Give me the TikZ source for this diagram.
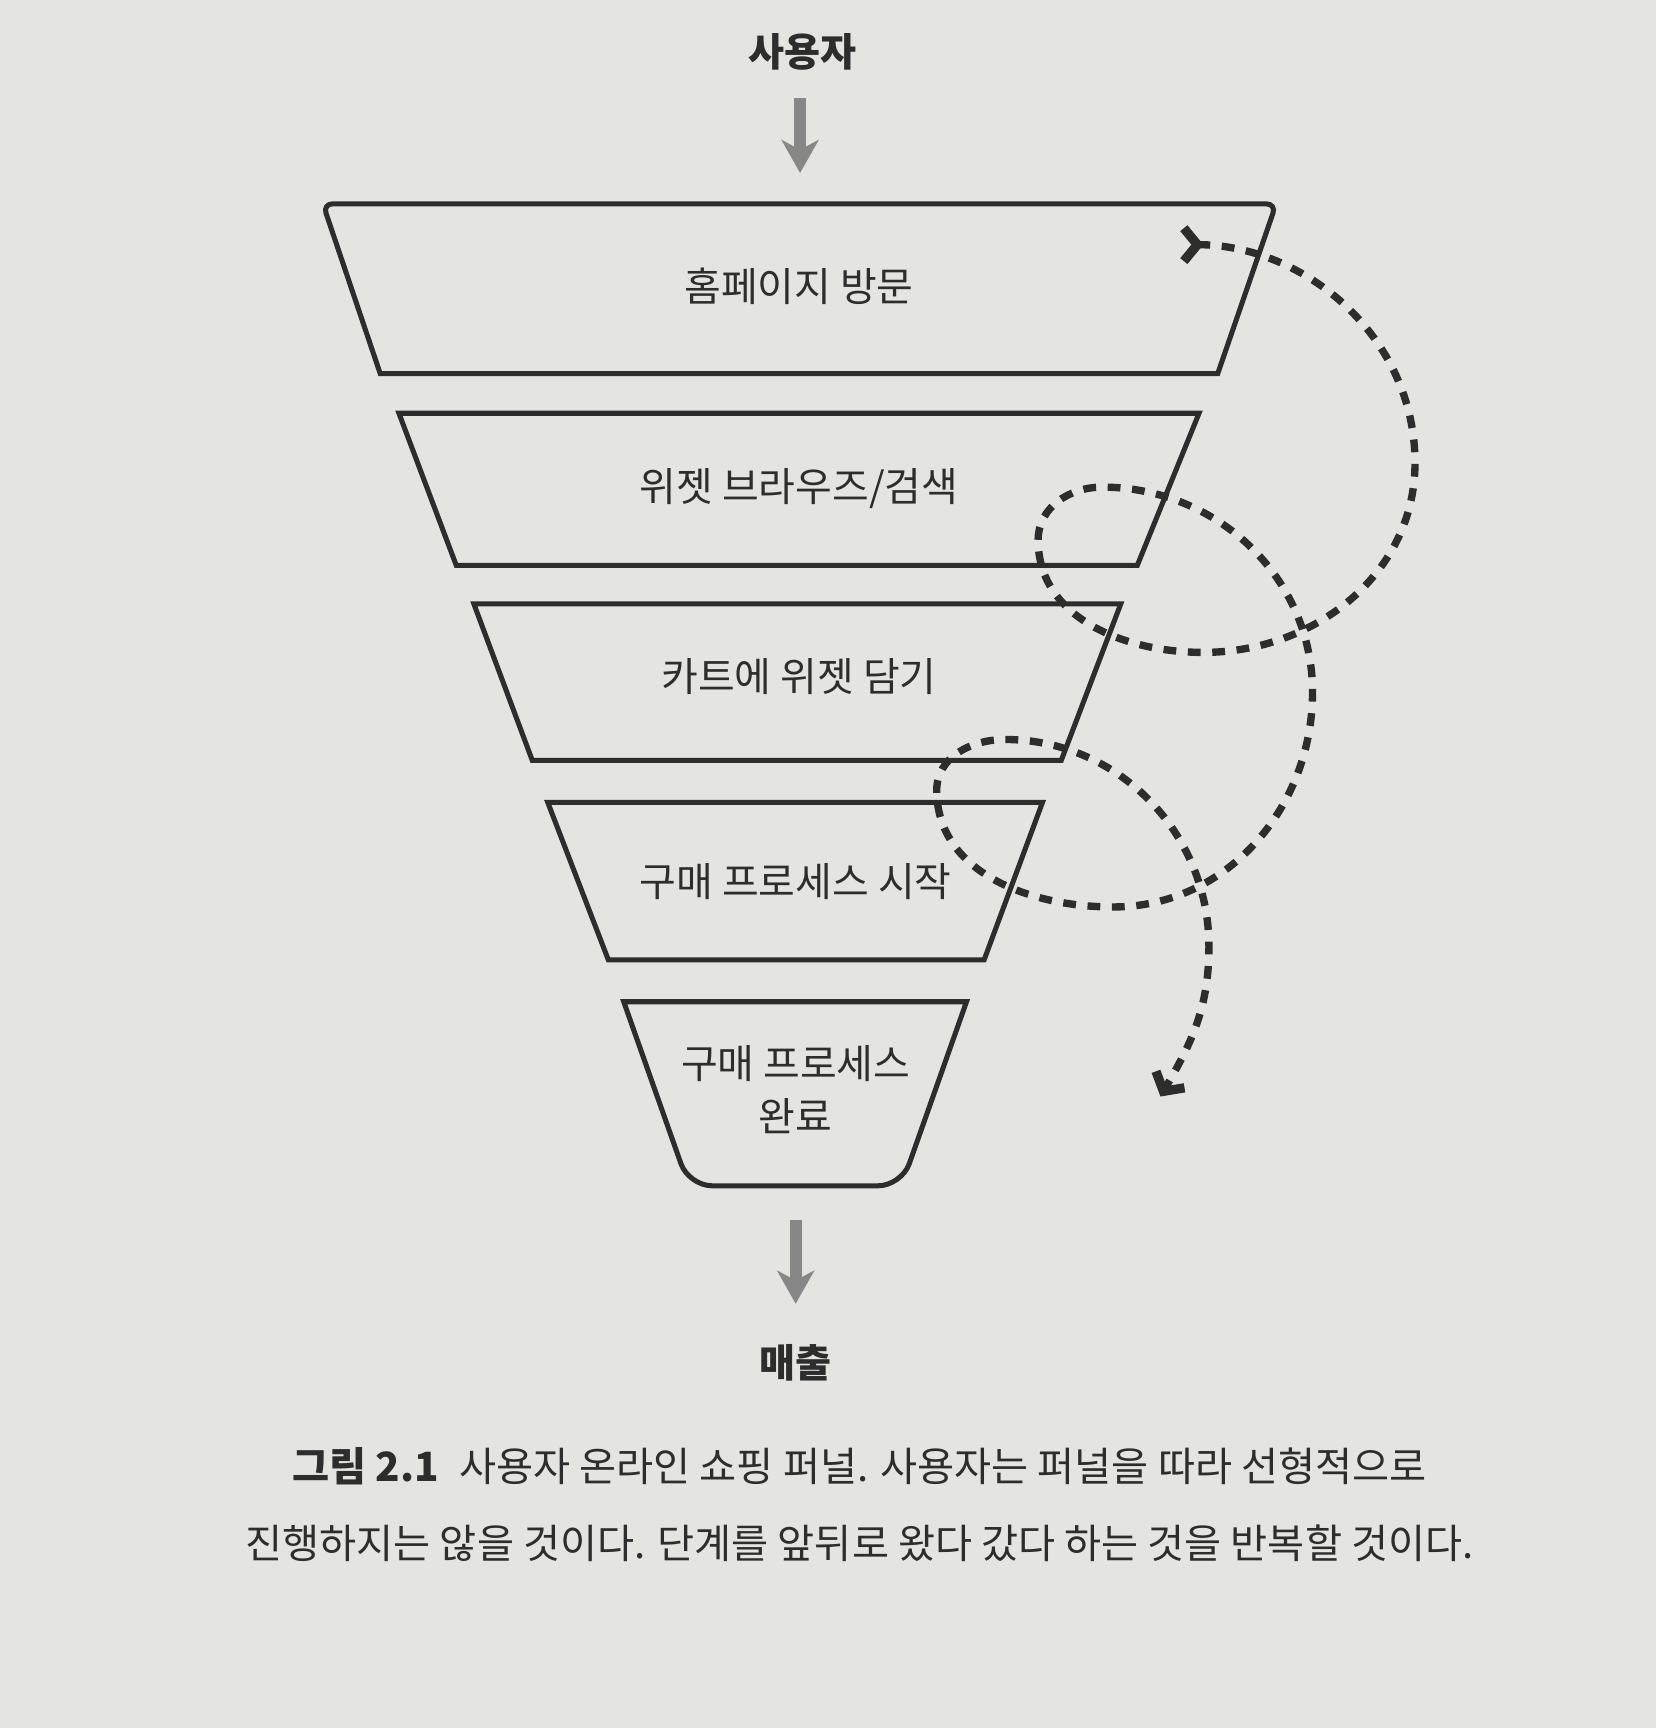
\documentclass[tikz,border=0pt]{standalone}
\usepackage{fontspec}
\setmainfont{Noto Sans CJK KR}
\usetikzlibrary{arrows.meta}
\definecolor{paper}{RGB}{228,228,225}
\definecolor{ink}{RGB}{45,45,45}
\definecolor{flowgray}{RGB}{135,135,135}
\begin{document}
\begin{tikzpicture}[x=0.01cm,y=0.01cm,
    stage/.style={draw=ink,line width=1.3pt,line join=miter},
    txt/.style={text=ink,inner sep=0pt,font=\fontsize{10.3}{13.7}\selectfont},
    flow/.style={draw=flowgray,line width=3.1pt,-{Stealth[length=8.5pt,width=9.5pt,inset=2.5pt]}},
    detour/.style={draw=ink,line width=1.9pt,dash pattern=on 3.3pt off 3pt,
        {Straight Barb[reversed,length=3.5pt,width=8.5pt,line width=2.4pt]}-{Straight Barb[length=3.5pt,width=8.5pt,line width=2.4pt]}}]
    % paper
    \fill[paper] (0,0) rectangle (1503,1568);
    \useasboundingbox (0,0) rectangle (1503,1568);

    % funnel
    \draw[stage] (345,1229) [rounded corners=2.5pt] -- (293,1383) -- (1158,1383) [sharp corners] -- (1105,1229) -- cycle;
    \draw[stage] (362,1193) -- (1088,1193) -- (1032,1055) -- (414,1055) -- cycle;
    \draw[stage] (430,1020) -- (1017,1020) -- (963,878) -- (483,878) -- cycle;
    \draw[stage] (497,840) -- (946,840) -- (893,697) -- (552,697) -- cycle;
    \draw[stage] (566,659) -- (877,659) [rounded corners=6pt] -- (818,492) -- (625,492) [sharp corners] -- cycle;

    \node[txt,font=\fontsize{10.1}{12}\bfseries] (user) at (728,1521) {사용자};
    \node[txt] (visit) at (725,1308) {홈페이지 방문};
    \node[txt] (browse) at (725,1125) {위젯 브라우즈/검색};
    \node[txt] (cart) at (725,954) {카트에 위젯 담기};
    \node[txt] (checkout) at (722,768) {구매 프로세스 시작};
    \node[txt,align=center] (done) at (722,579) {구매 프로세스\\완료};
    \node[txt,font=\fontsize{10.1}{12}\bfseries] (revenue) at (722,331) {매출};

    \coordinate (intop) at (726,1479);
    \coordinate (inbot) at (726,1411);
    \coordinate (outtop) at (722,461);
    \coordinate (outbot) at (722,385);
    \draw[flow] (intop) -- (inbot);
    \draw[flow] (outtop) -- (outbot);

    % going back and forth
    \coordinate (backstart) at (1070,1346);
    \coordinate (backend) at (1053,573);
    \draw[detour] (backstart) to[out=0,in=90] (1284,1148) to[out=-90,in=0] (1092,976)
        to[out=180,in=-90] (942,1078) to[out=90,in=180] (1000,1126)
        to[out=0,in=90] (1191,940) to[out=-90,in=0] (1010,745)
        to[out=180,in=-90] (850,851) to[out=90,in=180] (912,897)
        to[out=0,in=90] (1097,709) to[out=-90,in=60] (backend);

    \node[txt,align=center,font=\fontsize{10.4}{19.9}\selectfont] (caption) at (780,203)
        {\textbf{그림 2.1}\enspace 사용자 온라인 쇼핑 퍼널. 사용자는 퍼널을 따라 선형적으로\\
         진행하지는 않을 것이다. 단계를 앞뒤로 왔다 갔다 하는 것을 반복할 것이다.};
\end{tikzpicture}
\end{document}
